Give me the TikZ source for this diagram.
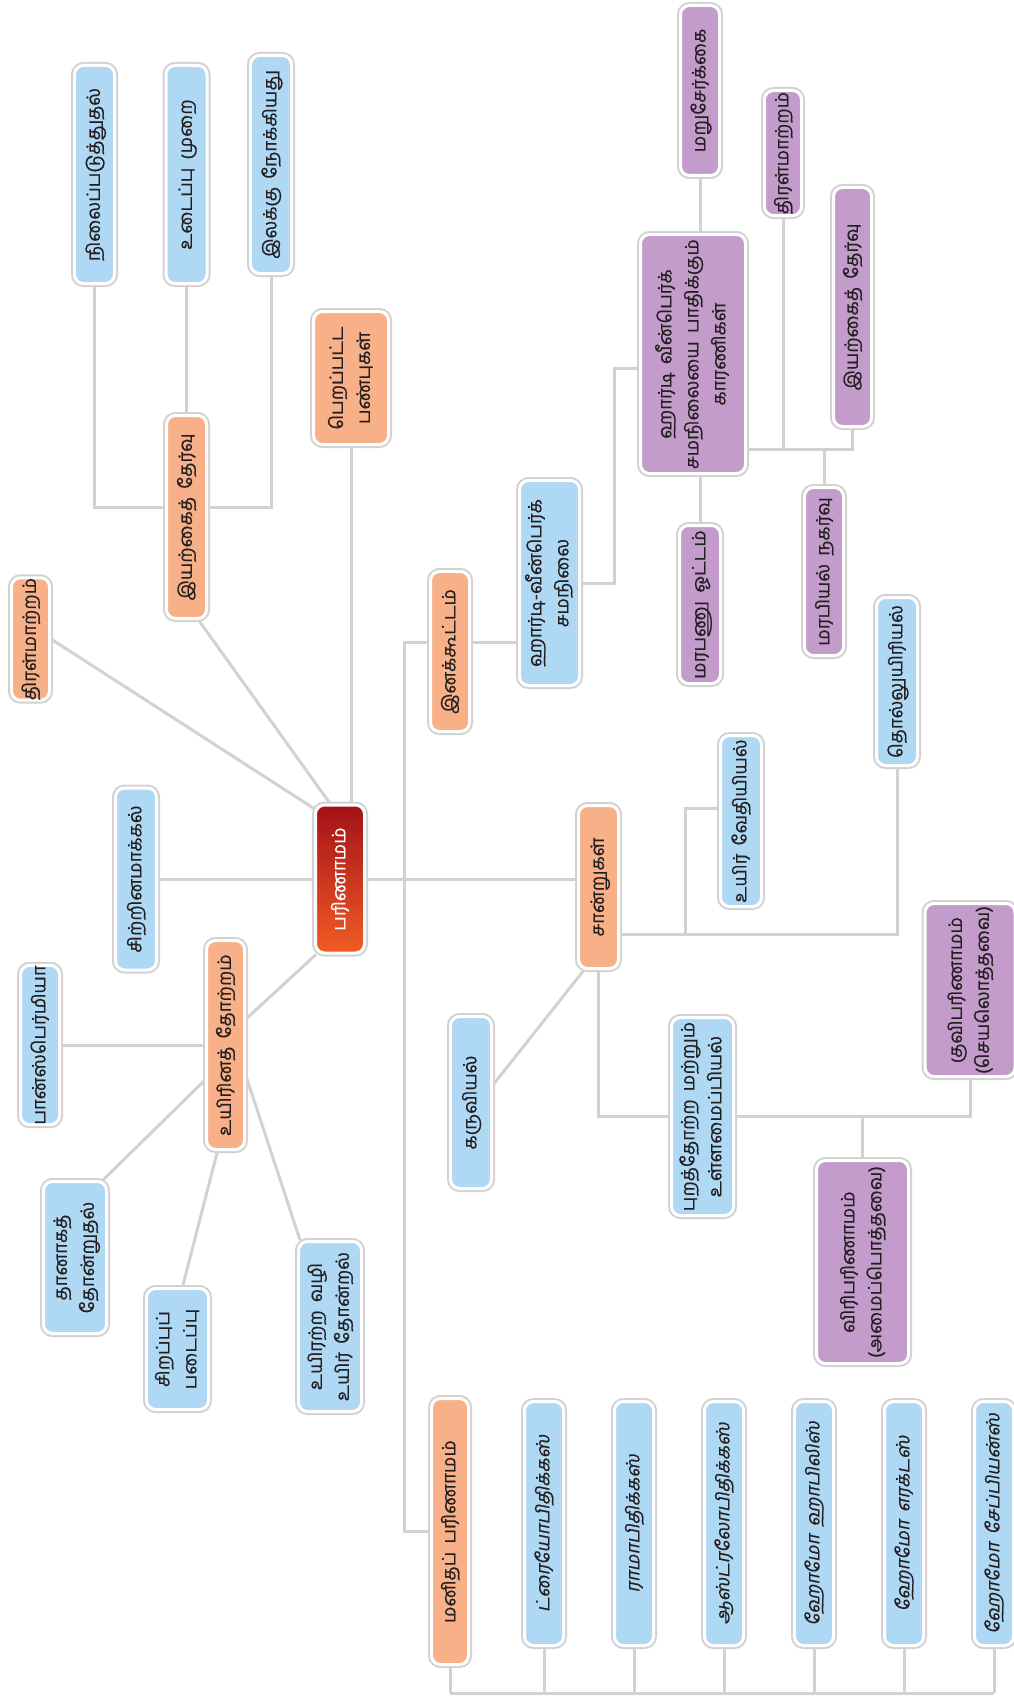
\documentclass[tikz,border=0pt]{standalone}
\usepackage{fontspec}
\usepackage{graphicx}
\usetikzlibrary{backgrounds,calc}
\newfontfamily\tamfont[Script=Tamil,WordSpace=1.8,FakeBold=0.5]{Hind Madurai}
\newfontfamily\tamit[Script=Tamil,WordSpace=1.8,FakeSlant=0.2,FakeBold=0.5]{Hind Madurai}
\definecolor{cblue}{RGB}{174,216,244}
\definecolor{corange}{RGB}{248,176,136}
\definecolor{cpurple}{RGB}{196,156,203}
\definecolor{cline}{RGB}{210,210,210}
\definecolor{cdark}{RGB}{163,17,25}
\definecolor{cmid}{RGB}{212,42,34}
\definecolor{cbright}{RGB}{241,92,36}
\definecolor{ctext}{RGB}{35,31,32}
% text set bottom-to-top, one tabular row per line
\newcommand{\vtext}[1]{\rotatebox{90}{\begin{tabular}{@{}c@{}}#1\end{tabular}}}
\tikzset{
  box/.style={rectangle, rounded corners=9pt, draw=white, line width=3pt,
    preaction={draw=cline, line width=7pt}, inner sep=0pt, text=ctext,
    font=\tamfont\fontsize{18.5pt}{27pt}\selectfont},
  blbox/.style={box, fill=cblue},
  orbox/.style={box, fill=corange},
  pubox/.style={box, fill=cpurple},
  itbox/.style={box, fill=cblue, font=\tamit\fontsize{18.5pt}{27pt}\selectfont},
  sz/.style 2 args={minimum width=#1pt, minimum height=#2pt},
  link/.style={draw=cline, line width=3pt}
}
\begin{document}
\begin{tikzpicture}[x=1pt,y=-1pt]
\useasboundingbox (0,0) rectangle (1013,1699);

% central topic
\node[box, sz={49}{148}, top color=cdark, middle color=cmid, bottom color=cbright, text=white] (evo) at (340,879) {\vtext{பரிணாமம்}};

% upper-left branch
\node[blbox, sz={40}{218}] (stab) at (94.5,174.5) {\vtext{நிலைப்படுத்துதல்}};
\node[blbox, sz={41}{218}] (brk) at (186.5,174.5) {\vtext{உடைப்பு முறை}};
\node[blbox, sz={41}{218}] (dir) at (271,164.5) {\vtext{இலக்கு நோக்கியது}};
\node[orbox, sz={75}{133}] (acq) at (351,378) {\vtext{பெறப்பட்ட\\பண்புகள்}};
\node[orbox, sz={40}{203}] (nsel) at (186.5,517) {\vtext{இயற்கைத் தேர்வு}};
\node[orbox, sz={38}{115}] (mac1) at (30.5,639) {\vtext{திரள்மாற்றம்}};
\node[blbox, sz={41}{182}] (spec) at (136,879) {\vtext{சிற்றினமாக்கல்}};

% origin of life
\node[orbox, sz={38}{209}] (ori) at (225.5,1045) {\vtext{உயிரினத் தோற்றம்}};
\node[blbox, sz={39}{152}] (pan) at (40,1045) {\vtext{பான்ஸ்பெர்மியா}};
\node[blbox, sz={63}{152}] (spo) at (75,1257.5) {\vtext{தானாகத்\\தோன்றுதல்}};
\node[blbox, sz={62}{121}] (spc) at (177.5,1349) {\vtext{சிறப்புப்\\படைப்பு}};
\node[blbox, sz={63}{170}] (abi) at (330,1326.5) {\vtext{உயிரற்ற வழி\\உயிர் தோன்றல்}};

% population branch
\node[orbox, sz={39}{160}] (pop) at (450,651.5) {\vtext{இனக்கூட்டம்}};
\node[blbox, sz={60}{205}] (hw) at (549.5,583) {\vtext{ஹார்டி-வீன்பெர்க்\\சமநிலை}};
\node[pubox, sz={105}{239}] (fac) at (693,354) {\vtext{ஹார்டி வீன்பெர்க்\\சமநிலையை பாதிக்கும்\\காரணிகள்}};
\node[pubox, sz={39}{170}] (rec) at (700,90.5) {\vtext{மறுசேர்க்கை}};
\node[pubox, sz={37}{125}] (gsh) at (783,153) {\vtext{திரள்மாற்றம்}};
\node[pubox, sz={38}{239}] (ns2) at (852.5,307) {\vtext{இயற்கைத் தேர்வு}};
\node[pubox, sz={41}{158}] (mgf) at (700,604.5) {\vtext{மரபணு ஓட்டம்}};
\node[pubox, sz={39}{168}] (gdr) at (824,571.5) {\vtext{மரபியல் நகர்வு}};

% evidence branch
\node[orbox, sz={40}{163}] (evi) at (598.5,887) {\vtext{சான்றுகள்}};
\node[blbox, sz={41}{168}] (pal) at (897,681.5) {\vtext{தொல்லுயிரியல்}};
\node[blbox, sz={41}{171}] (bio) at (741,821) {\vtext{உயிர் வேதியியல்}};
\node[blbox, sz={41}{172}] (emb) at (471,1102.5) {\vtext{கருவியல்}};
\node[blbox, sz={62}{198}] (mor) at (702.5,1116.5) {\vtext{புறத்தோற்ற மற்றும்\\உள்ளமைப்பியல்}};
\node[pubox, sz={90}{173}] (conv) at (970,990) {\vtext{குவிபரிணாமம்\\(செயலொத்தவை)}};
\node[pubox, sz={92}{203}] (div) at (862.5,1262) {\vtext{விரிபரிணாமம்\\(அமைப்பொத்தவை)}};

% human evolution
\node[orbox, sz={37}{266}] (hum) at (450,1531.5) {\vtext{மனிதப் பரிணாமம்}};
\node[itbox, sz={39}{244}] (h1) at (544,1523.5) {\vtext{ட்ரையோபிதிக்கஸ்}};
\node[itbox, sz={39}{244}] (h2) at (634,1523.5) {\vtext{ராமாபிதிக்கஸ்}};
\node[itbox, sz={39}{244}] (h3) at (724,1523.5) {\vtext{ஆஸ்ட்ரலோபிதிக்கஸ்}};
\node[itbox, sz={39}{244}] (h4) at (814,1523.5) {\vtext{ஹோமோ ஹாபிலிஸ்}};
\node[itbox, sz={39}{244}] (h5) at (904,1523.5) {\vtext{ஹோமோ எரக்டஸ்}};
\node[itbox, sz={39}{244}] (h6) at (994,1523.5) {\vtext{ஹோமோ சேப்பியன்ஸ்}};

\begin{scope}[on background layer]
\fill[white] (0,0) rectangle (1013,1699);
% upper-left
\draw[link] (stab.south) |- ([yshift=10pt]nsel.west);
\draw[link] (brk.south) -- (nsel.north);
\draw[link] (dir.south) |- ([yshift=10pt]nsel.east);
\draw[link] (acq.south) -- (acq.south |- evo.north);
\draw[link] (mac1.east) -- ([yshift=-5pt]evo.north west);
\draw[link] ([xshift=12pt]nsel.south) -- ([xshift=-10pt]evo.north);
\draw[link] (spec.east) -- (evo.west);
\draw[link] (evo.east) -- (evi.west |- evo.east);
% trunk to population and human evolution
\coordinate (trunk) at (404,879);
\draw[link] ([yshift=9pt]pop.west) -| (trunk) |- (hum.west);
\draw[link] ([yshift=9pt]pop.east) -- ([yshift=9pt]pop.east -| hw.west);
\draw[link] (hw.east) -| ([yshift=-14pt,xshift=-25pt]fac.west) -- ([yshift=-14pt]fac.west);
\draw[link] (rec.south) -- (rec.south |- fac.north);
\draw[link] (mgf.north) -- (mgf.north |- fac.south);
\coordinate (fj) at ([yshift=-95pt]fac.east);
\draw[link] (fj) -| (ns2.south);
\draw[link] (gsh.south) -- (gsh.south |- fj);
\draw[link] (gdr.north) -- (gdr.north |- fj);
% evidence
\coordinate (ej) at ([yshift=-47pt]evi.east);
\draw[link] (ej) -| (pal.south);
\coordinate (ebr) at ([xshift=65pt]ej);
\draw[link] (ebr) |- ([yshift=13pt]bio.west);
\draw[link] ([xshift=7pt]evi.south west) -- ([yshift=-70pt]emb.north east);
\draw[link] (evi.south) |- (mor.west);
\draw[link] (mor.east) -| (conv.south);
\draw[link] (div.north) -- (div.north |- mor.east);
% origin of life
\draw[link] ([xshift=2pt]evo.south west) -- ([yshift=-80pt]ori.north east);
\draw[link] (ori.west) -- (pan.east);
\draw[link] ([yshift=-35pt]ori.west) -- ([xshift=-5pt]spo.north east);
\draw[link] ([xshift=-8pt]ori.south) -- ([xshift=5pt]spc.north);
\draw[link] ([yshift=-31pt]ori.east) -- ([xshift=-30pt]abi.north);
% human evolution rail
\coordinate (hb) at (0,1693);
\draw[link] (hum.south |- hb) -- (h6.south |- hb);
\foreach \n in {hum,h1,h2,h3,h4,h5,h6} \draw[link] (\n.south) -- (\n.south |- hb);
\end{scope}
\end{tikzpicture}
\end{document}
